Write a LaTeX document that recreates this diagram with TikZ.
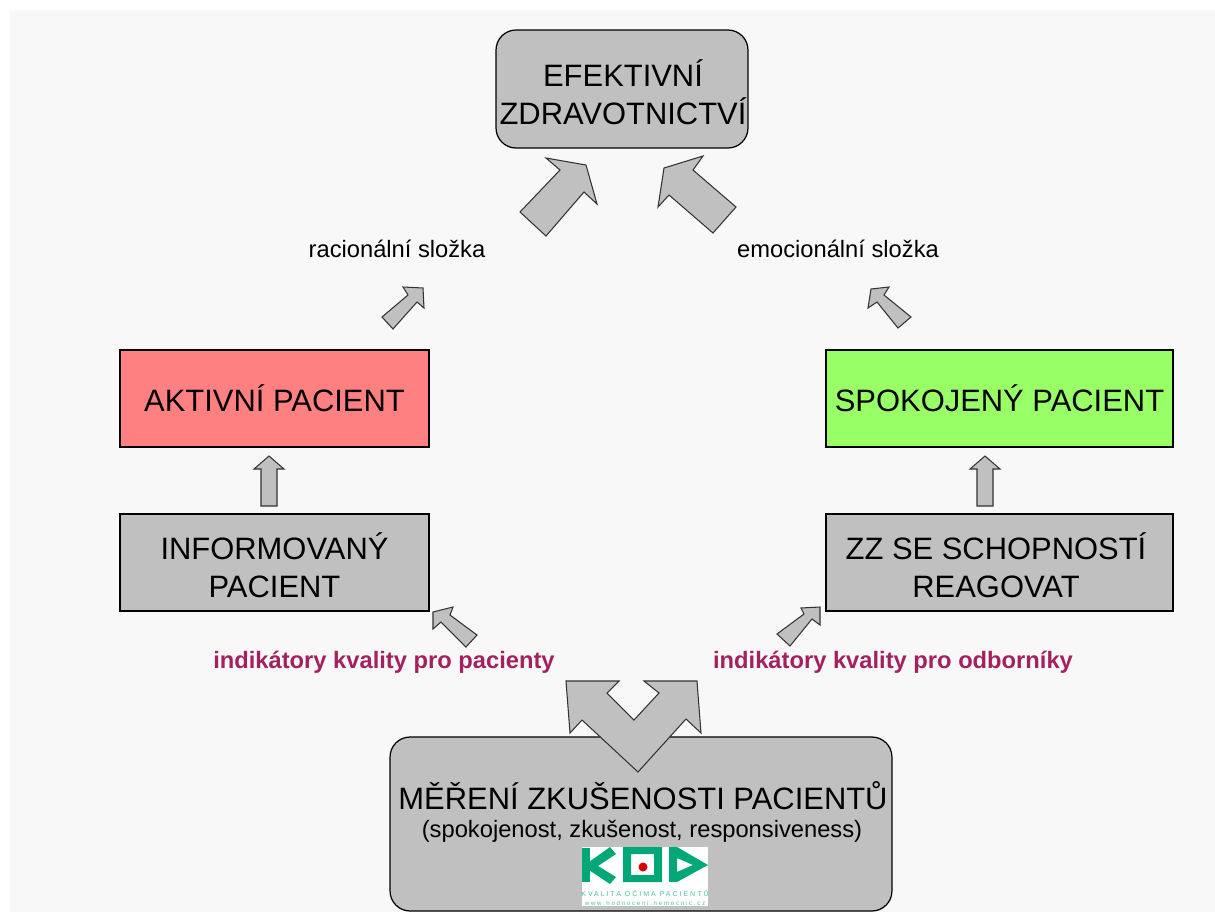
\documentclass[tikz,border=0pt]{standalone}
\usepackage{fontspec}
\setmainfont{Liberation Sans}
\newfontfamily\kopfont[LetterSpace=28]{Liberation Sans}
\definecolor{panelgray}{HTML}{F8F8F8}
\definecolor{boxgray}{HTML}{C0C0C0}
\definecolor{activered}{HTML}{FF8080}
\definecolor{happygreen}{HTML}{99FF66}
\definecolor{labelpurple}{HTML}{A3215F}
\definecolor{kopgreen}{HTML}{00A878}
\tikzset{
  box/.style = {draw = black, line width = 0.7pt, fill = boxgray, align = center, inner sep = 0pt, font = \fontsize{17.6}{21.5}\selectfont},
  roundbox/.style = {box, rounded corners = 0.4cm},
  blockarrow/.style = {draw = black!80, line width = 0.6pt, fill = boxgray, line join = miter},
  plainlabel/.style = {font = \fontsize{13.5}{15}\selectfont},
  indicator/.style = {color = labelpurple, font = \fontsize{13.5}{15}\selectfont\bfseries},
  koplabel/.style = {color = kopgreen!70, inner sep = 0pt, font = \kopfont\fontsize{4}{4}\selectfont}
}
\begin{document}
\begin{tikzpicture}[x = 0.02cm, y = -0.02cm]
\useasboundingbox (0,0) rectangle (1215,914);
\fill[white] (0,0) rectangle (1215,914);
\fill[panelgray] (10,10) rectangle (1215,912);
% boxes
\node[roundbox, minimum width = 5.04cm, minimum height = 2.36cm] (efektivni) at (622,89) {};
\node[box, fill = activered, minimum width = 6.18cm, minimum height = 1.94cm] (aktivni) at (274.5,398.5) {AKTIVNÍ PACIENT};
\node[box, fill = happygreen, minimum width = 6.94cm, minimum height = 1.94cm] (spokojeny) at (999.5,398.5) {SPOKOJENÝ PACIENT};
\node[box, minimum width = 6.18cm, minimum height = 1.94cm] (informovany) at (274.5,562.5) {};
\node[box, minimum width = 6.94cm, minimum height = 1.94cm] (schopnost) at (999.5,562.5) {};
\node[roundbox, minimum width = 10.04cm, minimum height = 3.48cm] (mereni) at (641,824) {};
% box texts
\node[box, draw = none, fill = none] (efektivninapis) at (623,92) {EFEKTIVNÍ\\ZDRAVOTNICTVÍ};
\node[box, draw = none, fill = none] (informovanynapis) at (274.5,565) {INFORMOVANÝ\\PACIENT};
\node[box, draw = none, fill = none] (schopnostnapis) at (996,565) {ZZ SE SCHOPNOSTÍ\\REAGOVAT};
% labels
\node[plainlabel] (racionalni) at (397,249) {racionální složka};
\node[plainlabel] (emocionalni) at (838,249) {emocionální složka};
\node[indicator] (propacienty) at (384,662) {indikátory kvality pro pacienty};
\node[indicator] (proodborniky) at (893,662) {indikátory kvality pro odborníky};
\node[font = \fontsize{17.6}{20}\selectfont] (mereninadpis) at (643,796) {MĚŘENÍ ZKUŠENOSTI PACIENTŮ};
\node[font = \fontsize{13.5}{15}\selectfont] (merenipodnadpis) at (642,831) {(spokojenost, zkušenost, responsiveness)};
% arrows
\draw[blockarrow] (546,158) -- (586,165) -- (597,204) -- (584,192) -- (546,236) -- (520,212) -- (560,170) -- cycle;
\draw[blockarrow] (703,156) -- (693,170) -- (736,207) -- (713,233) -- (669,195) -- (658,207) -- (664,168) -- cycle;
\draw[blockarrow] (403,287) -- (423,288) -- (424,308) -- (417,302) -- (393,329) -- (382,317) -- (408,295) -- cycle;
\draw[blockarrow] (889,287) -- (871,289) -- (868,308) -- (877,302) -- (898,328) -- (911,317) -- (884,295) -- cycle;
\foreach \x in {269,985} \draw[blockarrow] (\x,456) -- (\x+15,469) -- (\x+8,469) -- (\x+8,506) -- (\x-8,506) -- (\x-8,469) -- (\x-15,469) -- cycle;
\draw[blockarrow] (453,607) -- (433,612) -- (433,629) -- (441,622) -- (466,647) -- (477,635) -- (450,615) -- cycle;
\draw[blockarrow] (801,608) -- (820,607) -- (820,625) -- (812,619) -- (790,646) -- (777,634) -- (804,614) -- cycle;
\draw[blockarrow] (566,681) -- (619,681) -- (607,693) -- (634,720) -- (659,693) -- (644,681) -- (697,681) -- (701,733) -- (686,719) -- (638,772) -- (582,720) -- (570,733) -- cycle;
% logo
\fill[white] (582,847) rectangle (708,906);
\fill[kopgreen] (582,848) rectangle (590,882);
\fill[kopgreen] (589,862) -- (610,847) -- (616,854) -- (598,866) -- (616,877) -- (610,884) -- (589,870) -- cycle;
\fill[kopgreen, even odd rule] (623,847) rectangle (662,882) (631,854) rectangle (654,875);
\fill[red!85!black] (643,867) circle (4.5);
\fill[kopgreen] (669,847) rectangle (677,882);
\fill[kopgreen, even odd rule] (677,847) -- (708,865) -- (677,882) -- cycle (677,858) -- (693,865) -- (677,872) -- cycle;
\node[koplabel] (koptext) at (645,893) {KVALITA OČIMA PACIENTŮ};
\node[koplabel, font = \kopfont\fontsize{3.5}{4}\selectfont] (kopweb) at (645,903) {www.hodnoceni.nemocnic.cz};
\end{tikzpicture}
\end{document}
